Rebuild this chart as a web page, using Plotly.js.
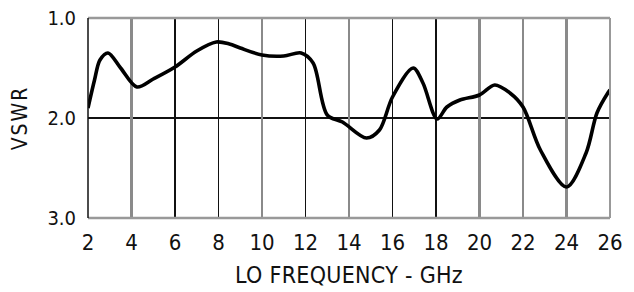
<!DOCTYPE html>
<html>
<head>
<meta charset="utf-8">
<script src="https://cdn.plot.ly/plotly-3.0.1.min.js"></script>
<style>
html,body{margin:0;padding:0;background:#fff;}
#chart{width:634px;height:292px;}
.xtitle{letter-spacing:0.3px;}
.ytitle{letter-spacing:2px;}
</style>
</head>
<body>
<div id="chart"></div>
<script>
// LO frequency (GHz) and VSWR
var freq = [2, 2.3, 2.55, 2.92, 3.5, 4.25, 5, 6, 7, 7.9, 8.5, 9, 10, 11, 11.8, 12.35, 13.0, 13.7, 14.8, 15.4, 16.0, 16.95, 17.4, 18.05, 18.5, 19.1, 20, 20.7, 21.4, 22, 22.8, 24.0, 24.9, 25.4, 25.9, 26];
var vswr = [1.90, 1.62, 1.42, 1.35, 1.50, 1.69, 1.61, 1.49, 1.33, 1.24, 1.26, 1.30, 1.37, 1.38, 1.35, 1.45, 1.97, 2.04, 2.20, 2.12, 1.79, 1.50, 1.65, 2.01, 1.89, 1.82, 1.77, 1.67, 1.75, 1.89, 2.32, 2.69, 2.35, 1.95, 1.75, 1.72];

var xTicks = [2, 4, 6, 8, 10, 12, 14, 16, 18, 20, 22, 24, 26];
var xGridDark = [6, 8, 12, 16, 18];
var xGridGray = [4, 10, 14, 20, 22, 24];
var yTicks = [1, 2, 3];
var yTickText = ['1.0', '2.0', '3.0'];

var xRange = [xTicks[0], xTicks[xTicks.length - 1]];
var yRange = [yTicks[yTicks.length - 1], yTicks[0]];

var fontFam = '"DejaVu Sans Condensed", "Liberation Sans Narrow", "Liberation Sans", sans-serif';

var traces = [
  {x: freq, y: vswr, xaxis: 'x2', yaxis: 'y', mode: 'lines', line: {width: 0}, hoverinfo: 'skip', showlegend: false},
  {x: freq, y: vswr, xaxis: 'x3', yaxis: 'y', mode: 'lines', line: {width: 0}, hoverinfo: 'skip', showlegend: false},
  {x: freq, y: vswr, xaxis: 'x', yaxis: 'y', mode: 'lines',
   line: {color: '#000', width: 3.6, shape: 'spline', smoothing: 0.9}, showlegend: false}
];

var layout = {
  width: 634, height: 292,
  margin: {l: 88, r: 24, t: 18, b: 74},
  paper_bgcolor: '#fff', plot_bgcolor: '#fff',
  showlegend: false,
  xaxis: {
    range: xRange, tickvals: xTicks, ticktext: xTicks.map(String),
    showgrid: false, zeroline: false, showline: false, ticks: '',
    ticklabelstandoff: 9,
    tickfont: {family: fontFam, size: 22, color: '#111'},
    title: {text: 'LO FREQUENCY - GHz', font: {family: fontFam, size: 23, color: '#111'}, standoff: 12}
  },
  xaxis2: {
    overlaying: 'x', anchor: 'y', range: xRange, tickvals: xGridDark,
    showticklabels: false, ticks: '', showgrid: true, gridcolor: '#111', gridwidth: 1.3,
    zeroline: false, showline: false
  },
  xaxis3: {
    overlaying: 'x', anchor: 'y', range: xRange, tickvals: xGridGray,
    showticklabels: false, ticks: '', showgrid: true, gridcolor: '#8a8a8a', gridwidth: 2.4,
    zeroline: false, showline: false
  },
  yaxis: {
    range: yRange, tickvals: yTicks, ticktext: yTickText,
    showgrid: true, gridcolor: '#111', gridwidth: 1.5,
    zeroline: false, showline: false, ticks: '',
    ticklabelstandoff: 11,
    tickfont: {family: fontFam, size: 20, color: '#111'},
    title: {text: 'VSWR', font: {family: fontFam, size: 21, color: '#111'}, standoff: 14}
  },
  shapes: [
    {type: 'line', xref: 'paper', yref: 'paper', x0: 0, x1: 1, y0: 1, y1: 1, line: {color: '#999', width: 2.5}},
    {type: 'line', xref: 'paper', yref: 'paper', x0: 0, x1: 1, y0: 0, y1: 0, line: {color: '#999', width: 2.5}},
    {type: 'line', xref: 'paper', yref: 'paper', x0: 1, x1: 1, y0: 0, y1: 1, line: {color: '#999', width: 2}},
    {type: 'line', xref: 'paper', yref: 'paper', x0: 0, x1: 0, y0: 0, y1: 1, line: {color: '#111', width: 1.5}}
  ]
};

Plotly.newPlot('chart', traces, layout, {displayModeBar: false, staticPlot: true});
</script>
</body>
</html>
